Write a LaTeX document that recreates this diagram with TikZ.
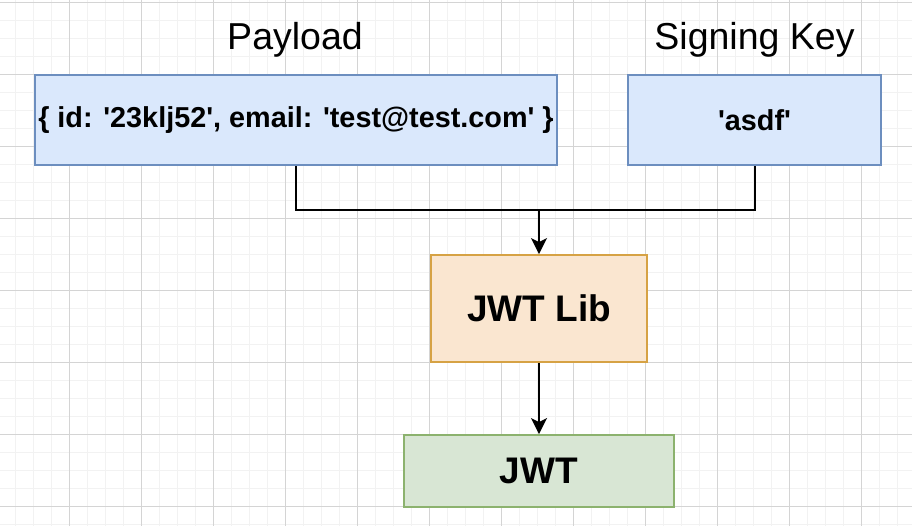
\documentclass[tikz,border=0pt]{standalone}
\usepackage{fontspec}
\setmainfont{Liberation Sans}
\newfontfamily\labelfont{Liberation Sans}
\usetikzlibrary{arrows.meta}
\definecolor{bluefill}{HTML}{DAE8FC}
\definecolor{bluedraw}{HTML}{6C8EBF}
\definecolor{orfill}{HTML}{FAE6D0}
\definecolor{ordraw}{HTML}{D6A244}
\definecolor{grfill}{HTML}{D8E6D4}
\definecolor{grdraw}{HTML}{8CB26E}
\definecolor{minorgrid}{HTML}{F2F2F2}
\definecolor{majorgrid}{HTML}{D4D4D4}
\tikzset{
  minorline/.style={draw=minorgrid, line width=1.6pt},
  majorline/.style={draw=majorgrid, line width=1.3pt},
  boxnode/.style={rectangle, line width=1.8pt, inner sep=0pt, align=center},
  bluebox/.style={boxnode, fill=bluefill, draw=bluedraw},
  orbox/.style={boxnode, fill=orfill, draw=ordraw},
  grbox/.style={boxnode, fill=grfill, draw=grdraw},
  titletext/.style={font=\labelfont\fontsize{37.5}{45}\selectfont, inner sep=0pt},
  smallbold/.style={font=\labelfont\fontsize{28.8}{34}\selectfont\bfseries},
  bigbold/.style={font=\labelfont\fontsize{37}{44}\selectfont\bfseries},
  wire/.style={draw=black, line width=2pt},
  arrowwire/.style={wire, -{Stealth[length=16pt,width=16pt,inset=4pt]}}
}
\begin{document}
\begin{tikzpicture}[x=1pt,y=-1pt]
\useasboundingbox (0,0) rectangle (912,526);
\fill[white] (0,0) rectangle (912,526);
% grid
\foreach \x in {15.3,33.3,...,912} {\draw[minorline] (\x,0) -- (\x,526);}
\foreach \y in {20.5,38.5,...,526} {\draw[minorline] (0,\y) -- (912,\y);}
\foreach \x in {69.3,141.3,...,912} {\draw[majorline] (\x,0) -- (\x,526);}
\foreach \y in {2.5,74.5,...,526} {\draw[majorline] (0,\y) -- (912,\y);}
% titles
\node[titletext] (ptitle) at (295,40) {Payload};
\node[titletext] (stitle) at (754.5,40) {Signing Key};
% boxes
\node[bluebox, minimum width=522pt, minimum height=90pt, smallbold] (payload) at (296,120) {\{ id: '23klj52', email: 'test@test.com' \}};
\node[bluebox, minimum width=253pt, minimum height=90pt, smallbold] (key) at (754.5,120) {'asdf'};
\node[orbox, minimum width=216pt, minimum height=107pt, bigbold] (lib) at (539,308.5) {JWT Lib};
\node[grbox, minimum width=270pt, minimum height=72pt, bigbold] (jwt) at (539,471) {JWT};
% connectors
\coordinate (join) at (539,210);
\draw[wire] (payload.south) |- (join) -| (key.south);
\draw[arrowwire] (join) -- (lib.north);
\draw[arrowwire] (lib.south) -- (jwt.north);
\end{tikzpicture}
\end{document}
